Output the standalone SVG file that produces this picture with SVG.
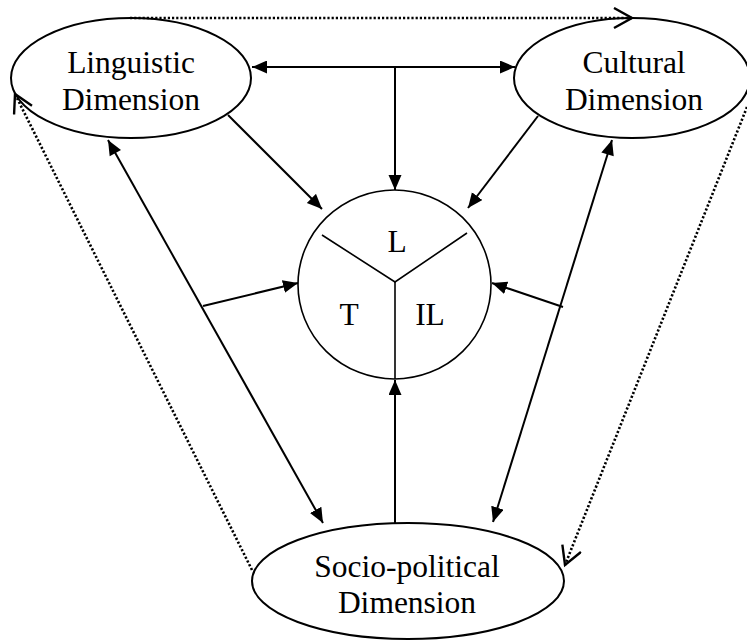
<svg xmlns="http://www.w3.org/2000/svg" width="747" height="641" viewBox="0 0 747 641">
<style>
.shape{fill:#fff;stroke:#000;stroke-width:2}
.lbl{font-family:"Liberation Serif","Times New Roman",serif;font-size:31.5px;fill:#000;text-anchor:middle}
.solid{fill:none;stroke:#000;stroke-width:2}
.dot{fill:none;stroke:#000;stroke-width:2.6;stroke-dasharray:2.2 2}
.arrow{marker-end:url(#head)}
.arrow2{marker-start:url(#headS);marker-end:url(#head)}
.open{marker-end:url(#chev)}
</style>
<defs>
<marker id="head" markerUnits="userSpaceOnUse" markerWidth="16" markerHeight="14" refX="15" refY="6.5" orient="auto"><path d="M0,0 L15,6.5 L0,13 z" fill="#000"/></marker>
<marker id="headS" markerUnits="userSpaceOnUse" markerWidth="16" markerHeight="14" refX="0" refY="6.5" orient="auto"><path d="M15,0 L0,6.5 L15,13 z" fill="#000"/></marker>
<marker id="chev" markerUnits="userSpaceOnUse" markerWidth="22" markerHeight="24" refX="19" refY="11" orient="auto"><path d="M1,1 L19,11 L1,21" fill="none" stroke="#000" stroke-width="2.4"/></marker>
</defs>
<g id="linguistic">
<ellipse class="shape" cx="131" cy="78" rx="120" ry="60"/>
<text class="lbl" x="131" y="73">Linguistic</text>
<text class="lbl" x="131" y="110">Dimension</text>
</g>
<g id="cultural">
<ellipse class="shape" cx="632" cy="78" rx="118" ry="60"/>
<text class="lbl" x="634" y="73">Cultural</text>
<text class="lbl" x="634" y="110">Dimension</text>
</g>
<g id="sociopolitical">
<ellipse class="shape" cx="408" cy="581" rx="156" ry="58"/>
<text class="lbl" x="407" y="577">Socio-political</text>
<text class="lbl" x="407" y="613">Dimension</text>
</g>
<g id="center">
<ellipse class="shape" cx="394.5" cy="284.5" rx="96.5" ry="94.5" style="stroke-width:1.6"/>
<polyline class="solid" points="322,235 395,282 467,233" style="stroke-width:1.6"/>
<line class="solid" x1="395" y1="282" x2="395" y2="379" style="stroke-width:1.6"/>
<text class="lbl" x="397" y="252">L</text>
<text class="lbl" x="349" y="325">T</text>
<text class="lbl" x="430" y="325">IL</text>
</g>
<g id="connectors">
<line class="dot open" x1="130" y1="18" x2="632" y2="18"/>
<line class="dot open" x1="252" y1="570" x2="15" y2="94"/>
<line class="dot open" x1="747" y1="107" x2="565" y2="565"/>
<line class="solid arrow2" x1="252" y1="67" x2="515" y2="67"/>
<line class="solid arrow" x1="395" y1="67" x2="395" y2="190"/>
<line class="solid arrow" x1="228" y1="115" x2="322" y2="209"/>
<line class="solid arrow" x1="538" y1="116" x2="468" y2="208"/>
<line class="solid arrow2" x1="108" y1="140" x2="323" y2="523"/>
<line class="solid arrow2" x1="612" y1="140" x2="493" y2="522"/>
<line class="solid arrow" x1="203" y1="306" x2="298" y2="283"/>
<line class="solid arrow" x1="563" y1="307" x2="492" y2="283"/>
<line class="solid arrow" x1="395" y1="523" x2="395" y2="380"/>
</g>
</svg>
